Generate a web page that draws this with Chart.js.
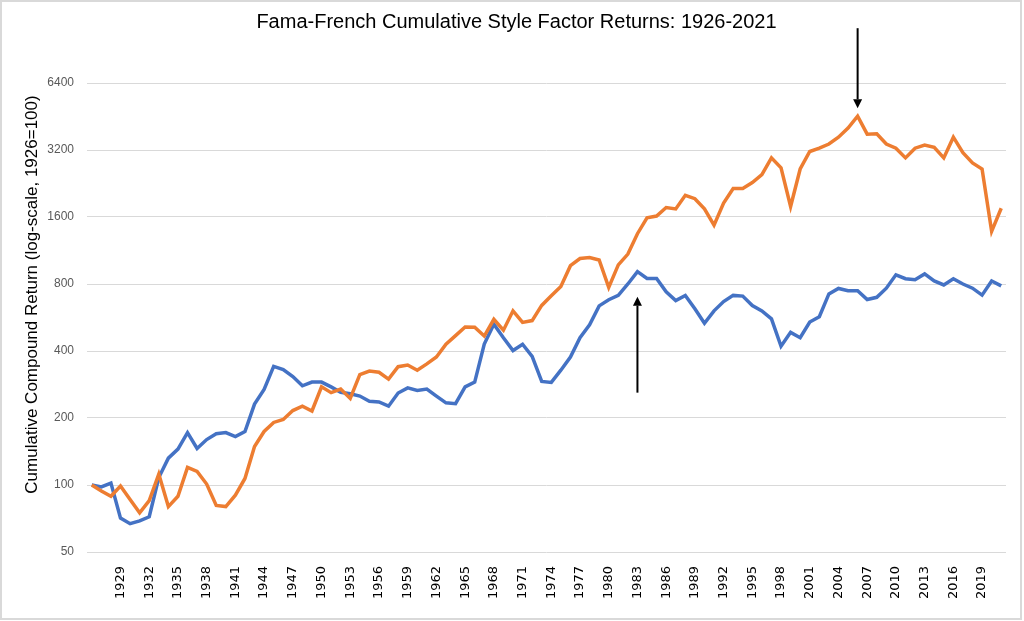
<!DOCTYPE html>
<html>
<head>
<meta charset="utf-8">
<title>Fama-French Cumulative Style Factor Returns: 1926-2021</title>
<script src="https://cdn.jsdelivr.net/npm/chart.js@4.4.0/dist/chart.umd.min.js"></script>
<style>
  html, body { margin: 0; padding: 0; background: #fff; }
  #wrap { width: 1024px; height: 621px; }
</style>
</head>
<body>
<div id="wrap"><canvas id="grafico" width="1024" height="621"></canvas></div>
<script>
// Anos (categorias) 1926..2021
const anos = [];
for (let a = 1926; a <= 2021; a++) anos.push(String(a));

// Valor (HML) - linha laranja
const valor = [
  100, 94, 89, 99, 86, 75, 85, 112, 80, 89,
  120, 115, 101, 81, 80, 90, 107, 149, 174, 191,
  197, 216, 226, 215, 276, 260, 270, 245, 313, 325,
  321, 299, 340, 346, 328, 350, 376, 429, 469, 513,
  511, 467, 555, 496, 606, 538, 548, 641, 708, 780,
  967, 1041, 1052, 1026, 772, 975, 1090, 1346, 1588, 1615,
  1765, 1740, 2002, 1933, 1740, 1470, 1847, 2150, 2150, 2285,
  2480, 2950, 2660, 1784, 2630, 3150, 3260, 3405, 3653, 4017,
  4540, 3770, 3785, 3405, 3260, 2950, 3260, 3370, 3290, 2950,
  3653, 3110, 2800, 2630, 1380, 1752
];

// Tamanho (SMB) - linha azul
const tamanho = [
  100, 98, 102, 71, 67, 69, 72, 108, 132, 145,
  172, 146, 160, 170, 172, 165, 174, 231, 269, 341,
  330, 307, 279, 290, 290, 276, 261, 257, 251, 238,
  236, 226, 259, 273, 266, 270, 251, 234, 232, 276,
  290, 430, 528, 459, 402, 429, 378, 292, 289, 328,
  376, 459, 524, 638, 680, 712, 800, 909, 847, 847,
  738, 674, 711, 619, 533, 606, 667, 711, 706, 640,
  606, 558, 420, 485, 459, 540, 570, 722, 764, 747,
  747, 681, 697, 766, 880, 845, 836, 888, 826, 792,
  845, 800, 766, 713, 826, 785
];

// Marcas do eixo Y (escala log base 2)
const marcasY = [50, 100, 200, 400, 800, 1600, 3200, 6400];

const tituloY = 'Cumulative Compound Return (log-scale, 1926=100)';
const anoPicoValor = '2006';
const anoPicoTamanho = '1983';

// desenha uma seta preta simples
function seta(ctx, x, yCauda, yPonta) {
    const dir = yPonta > yCauda ? 1 : -1;
    const cab = 9;
    ctx.save();
    ctx.strokeStyle = '#000';
    ctx.fillStyle = '#000';
    ctx.lineWidth = 2;
    ctx.beginPath();
    ctx.moveTo(x, yCauda);
    ctx.lineTo(x, yPonta - dir * cab);
    ctx.stroke();
    ctx.beginPath();
    ctx.moveTo(x, yPonta);
    ctx.lineTo(x - 4.5, yPonta - dir * cab);
    ctx.lineTo(x + 4.5, yPonta - dir * cab);
    ctx.closePath();
    ctx.fill();
    ctx.restore();
}

const extras = {
    id: 'extras',
    beforeDraw(chart) {
        const c = chart.ctx;
        c.save();
        c.strokeStyle = '#d9d9d9';
        c.lineWidth = 2;
        c.strokeRect(1, 1, chart.width - 4, chart.height - 3);
        c.restore();
    },
    afterDraw(chart) {
        const ctx = chart.ctx;
        const area = chart.chartArea;
        const sx = chart.scales.x;
        const sy = chart.scales.y;

        // título do eixo Y
        ctx.save();
        ctx.translate(32, (area.top + area.bottom) / 2 - 23);
        ctx.rotate(-Math.PI / 2);
        ctx.font = '17px "Liberation Sans", Arial, sans-serif';
        ctx.fillStyle = '#000';
        ctx.textAlign = 'center';
        ctx.textBaseline = 'middle';
        ctx.fillText(tituloY, 0, 0);
        ctx.restore();

        // seta para baixo no pico do valor
        const iv = anos.indexOf(anoPicoValor);
        const xv = sx.getPixelForValue(iv);
        const pv = sy.getPixelForValue(valor[iv]) - 8;
        seta(ctx, xv, pv - 80, pv);

        // seta para cima no pico do tamanho
        const it = anos.indexOf(anoPicoTamanho);
        const xt = sx.getPixelForValue(it);
        const pt = sy.getPixelForValue(tamanho[it]) + 25;
        seta(ctx, xt, pt + 96, pt);
    }
};

const ctx = document.getElementById('grafico').getContext('2d');
const grafico = new Chart(ctx, {
    type: 'line',
    data: {
        labels: anos,
        datasets: [{
            label: 'Value (HML)',
            data: valor,
            borderColor: '#ED7D31',
            backgroundColor: '#ED7D31',
            borderWidth: 3.5,
            pointRadius: 0,
            tension: 0
        }, {
            label: 'Size (SMB)',
            data: tamanho,
            borderColor: '#4472C4',
            backgroundColor: '#4472C4',
            borderWidth: 3.5,
            pointRadius: 0,
            tension: 0
        }]
    },
    options: {
        responsive: false,
        devicePixelRatio: 1,
        animation: false,
        layout: { padding: { left: 27, right: 18, top: 0, bottom: 0 } },
        plugins: {
            legend: { display: false },
            tooltip: { enabled: false },
            title: {
                display: true,
                text: 'Fama-French Cumulative Style Factor Returns: 1926-2021',
                color: '#000',
                font: { family: '"Liberation Sans", Arial, sans-serif', size: 20, weight: 'normal' },
                padding: { top: 10, bottom: 49 }
            }
        },
        scales: {
            x: {
                type: 'category',
                offset: true,
                grid: { display: false, drawTicks: false },
                border: { display: false },
                ticks: {
                    autoSkip: false,
                    maxRotation: 90,
                    minRotation: 90,
                    padding: 14,
                    color: '#000',
                    font: { family: '"DejaVu Sans", sans-serif', size: 13 },
                    callback: function(val, i) {
                        return (i > 0 && i % 3 === 0) ? anos[i] : '';
                    }
                },
                afterFit: function(axis) {
                    axis.height = 69;
                    axis.paddingLeft = 0;
                    axis.paddingRight = 0;
                }
            },
            y: {
                type: 'logarithmic',
                min: 50,
                max: 6400,
                grid: { color: '#d9d9d9', lineWidth: 1, drawTicks: false },
                border: { display: false },
                ticks: {
                    padding: 13,
                    color: '#595959',
                    font: { family: '"Liberation Sans", Arial, sans-serif', size: 12 },
                    callback: function(v) { return String(v); }
                },
                afterBuildTicks: function(axis) {
                    axis.ticks = marcasY.map(v => ({ value: v }));
                },
                afterFit: function(axis) { axis.width = 60; }
            }
        }
    },
    plugins: [extras]
});
</script>
</body>
</html>
